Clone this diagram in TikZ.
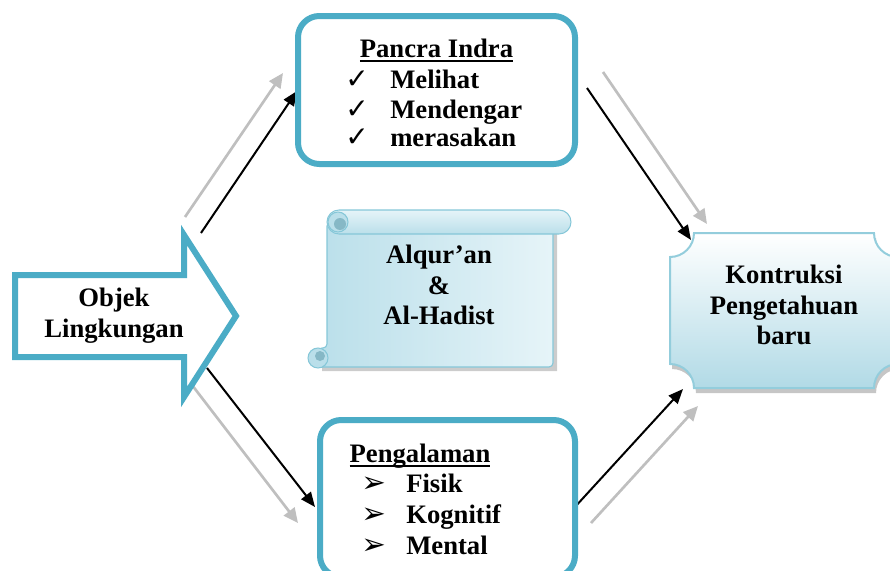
\documentclass[tikz,border=0pt]{standalone}
\usepackage{fontspec}
\setmainfont{Liberation Serif}
\newfontfamily\dingfont{DejaVu Sans}
\usetikzlibrary{arrows.meta}

\definecolor{tealline}{HTML}{4BACC6}
\definecolor{paleline}{HTML}{BFBFBF}
\definecolor{scrollline}{HTML}{86C7D8}
\definecolor{scrolldark}{HTML}{BADFEA}
\definecolor{scrollcurl}{HTML}{86B8C6}
\definecolor{scrolllight}{HTML}{E6F4F8}
\definecolor{plaquebottom}{HTML}{B1DAE6}
\definecolor{plaqueline}{HTML}{93CDDC}

\newsavebox{\titlebox}
\newcommand{\titleline}[1]{\sbox{\titlebox}{#1}\rlap{\rule[-3.5pt]{\wd\titlebox}{1.6pt}}\usebox{\titlebox}}
\newcommand{\tickmark}{\makebox[33.75pt][l]{\dingfont\bfseries\fontsize{21}{21}\selectfont ✓}}
\newcommand{\arrowmark}{\makebox[33.75pt][l]{\dingfont\fontsize{22}{22}\selectfont ➢}}

\begin{document}
\begin{tikzpicture}[x=0.75pt, y=-0.75pt,
        bigtext/.style = {font=\fontsize{20}{23}\selectfont\bfseries},
        stack/.style = {bigtext, align=center},
        infobox/.style = {draw=tealline, line width=4.5pt, rounded corners=16pt, fill=white},
        blackarrow/.style = {-{Triangle[length=11pt,width=9pt]}, line width=1.5pt},
        greyarrow/.style = {-{Triangle[length=11pt,width=10pt]}, line width=2pt, paleline}]
    \useasboundingbox (0,0) rectangle (890,571);

    \coordinate (objN) at (201,233);
    \coordinate (indraW) at (297,91);
    \coordinate (objNg) at (185,217);
    \coordinate (indraWg) at (283,73);
    \coordinate (indraE) at (587,88);
    \coordinate (kontN) at (691,240);
    \coordinate (indraEg) at (603,72);
    \coordinate (kontNg) at (707,224);
    \coordinate (objS) at (207,368);
    \coordinate (pengW) at (315,507);
    \coordinate (objSg) at (192,385);
    \coordinate (pengWg) at (298,523);
    \coordinate (pengE) at (574,508);
    \coordinate (kontS) at (683,389);
    \coordinate (pengEg) at (591,523);
    \coordinate (kontSg) at (698,406);

    \draw[greyarrow] (objNg) -- (indraWg);
    \draw[greyarrow] (indraEg) -- (kontNg);
    \draw[greyarrow] (objSg) -- (pengWg);
    \draw[greyarrow] (pengEg) -- (kontSg);
    \draw[blackarrow] (objN) -- (indraW);
    \draw[blackarrow] (indraE) -- (kontN);
    \draw[blackarrow] (objS) -- (pengW);
    \draw[blackarrow] (pengE) -- (kontS);

    \draw[tealline, line width=4.5pt, fill=white] (15,275) -- (184,275) -- (184,235)
        -- (236,316) -- (184,397) -- (184,357) -- (15,357) -- cycle;
    \node[stack] (objek) at (114,316) {Objek\\Lingkungan};

    \node[infobox, minimum width=207.75pt, minimum height=111pt] (indra) at (436.5,90) {};
    \node[bigtext, anchor=base] (indratitle) at (436.5,57) {\titleline{Pancra Indra}};
    \node[font=\fontsize{20}{21.75}\selectfont\bfseries, anchor=base west, inner sep=0pt] (indralist) at (345,89)
        {\begin{tabular}[t]{@{}l@{}}\tickmark Melihat\\\tickmark Mendengar\\\tickmark merasakan\end{tabular}};

    \node[infobox, minimum width=191.25pt, minimum height=117.75pt] (peng) at (447.5,498.5) {};
    \node[bigtext, anchor=base] (pengtitle) at (420,462) {\titleline{Pengalaman}};
    \node[font=\fontsize{20}{23.25}\selectfont\bfseries, anchor=base west, inner sep=0pt] (penglist) at (361,492)
        {\begin{tabular}[t]{@{}l@{}}\arrowmark Fisik\\\arrowmark Kognitif\\\arrowmark Mental\end{tabular}};

    \fill[gray!40] (331,226) -- (557,226) -- (557,371) -- (322,371) -- (322,352) -- (331,352) -- cycle;
    \shade[left color=scrolldark, right color=scrolllight, draw=scrollline, line width=0.8pt, rounded corners=3pt]
        (327,222) -- (553,222) -- (553,367) -- (318,367) -- (318,348) -- (327,348) -- cycle;
    \shade[top color=scrolllight, bottom color=scrolldark, draw=scrollline, line width=0.8pt, rounded corners=9pt]
        (327,210) rectangle (571,234);
    \filldraw[fill=scrolldark, draw=scrollline, line width=0.8pt] (338,222) circle (10);
    \fill[scrollcurl] (340,224) circle (6);
    \filldraw[fill=scrolldark, draw=scrollline, line width=0.8pt] (318,358) circle (10);
    \fill[scrollcurl] (320,356) circle (5);
    \node[stack] (quran) at (439,285) {Alqur’an\\\&\\Al-Hadist};

    \fill[gray!45, shift={(2,5)}] (694,233) -- (874,233) arc (180:90:24) -- (898,364) arc (270:180:24)
        -- (694,388) arc (360:270:24) -- (670,257) arc (90:0:24) -- cycle;
    \shade[top color=white, bottom color=plaquebottom, draw=plaqueline, line width=1.5pt]
        (694,233) -- (874,233) arc (180:90:24) -- (898,364) arc (270:180:24)
        -- (694,388) arc (360:270:24) -- (670,257) arc (90:0:24) -- cycle;
    \node[stack] (kontruksi) at (784,305) {Kontruksi\\Pengetahuan\\baru};
\end{tikzpicture}
\end{document}
